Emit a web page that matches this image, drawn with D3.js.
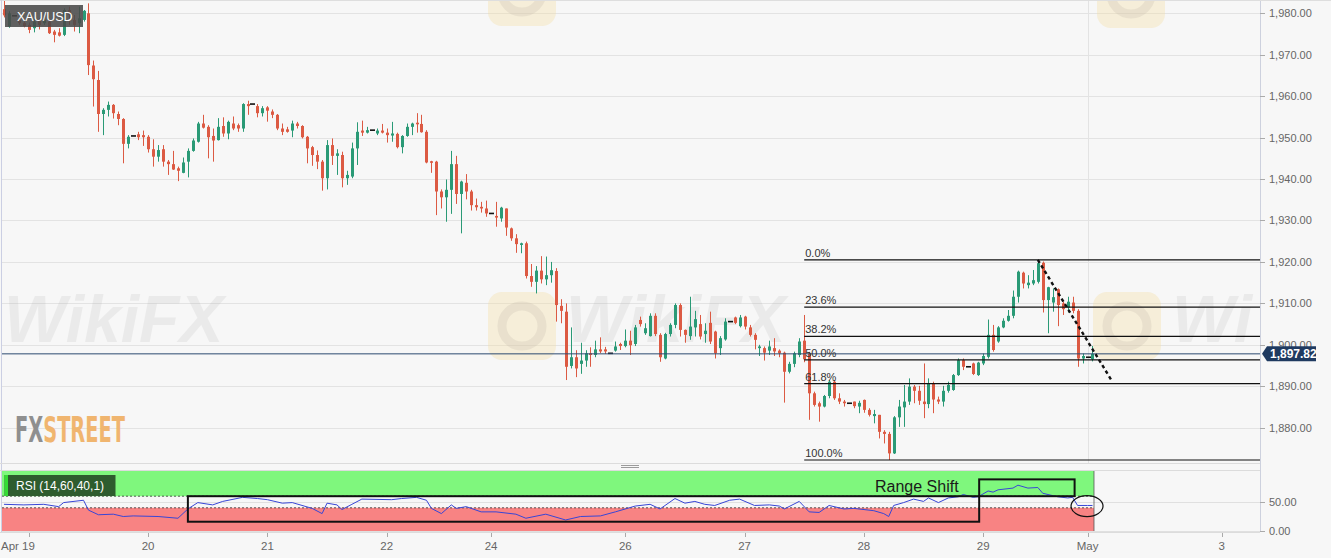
<!DOCTYPE html>
<html><head><meta charset="utf-8">
<script src="https://cdn.jsdelivr.net/npm/d3@7"></script>
<style>
html,body{margin:0;padding:0;background:#f7f7f7;overflow:hidden;}
svg{display:block;font-family:"Liberation Sans",Arial,sans-serif;}
</style></head><body>
<svg id="chart" width="1331" height="558"></svg>
<script>
// ---------- data (hourly XAU/USD candles) ----------
const opens = [
1981.0,1976.8,1979.4,1978.4,1977.7,1977.2,1976.4,1978.2,1977.6,1978.0,
1975.6,1975.4,1974.8,1980.8,1978.4,1977.6,1978.4,1980.0,1967.4,1963.9,
1955.7,1956.7,1957.9,1955.7,1954.5,1948.5,1950.4,1950.8,1950.6,1950.2,
1947.2,1945.4,1947.2,1944.2,1943.6,1942.6,1941.5,1944.2,1946.8,1949.0,
1953.4,1952.6,1950.4,1949.4,1952.8,1951.0,1953.4,1953.0,1952.2,1958.1,
1958.1,1957.6,1955.9,1957.3,1956.3,1955.5,1952.2,1952.0,1951.7,1953.4,
1952.8,1950.2,1947.7,1945.8,1944.2,1940.2,1948.2,1945.6,1945.8,1940.2,
1940.6,1947.4,1951.7,1951.2,1951.8,1951.0,1951.7,1951.2,1950.5,1950.9,
1947.7,1950.4,1952.6,1953.6,1953.3,1951.4,1944.3,1944.2,1937.0,1935.6,
1937.4,1943.6,1936.4,1939.1,1937.0,1933.7,1933.3,1932.9,1931.7,1931.1,
1930.5,1932.9,1928.1,1925.7,1924.1,1924.5,1916.6,1915.2,1917.9,1915.8,
1916.8,1917.8,1909.4,1908.0,1894.9,1897.0,1895.4,1896.2,1897.95,1897.55,
1898.9,1898.9,1897.95,1898.6,1900.2,1899.7,1901.0,1900.2,1906.0,1902.8,
1902.1,1907.0,1902.4,1896.7,1902.6,1904.8,1909.6,1903.6,1902.1,1904.2,
1905.0,1902.6,1905.3,1903.2,1899.2,1901.3,1905.6,1906.6,1904.5,1906.8,
1904.2,1902.4,1899.2,1899.2,1898.6,1899.2,1898.6,1898.1,1893.5,1895.4,
1897.55,1901.0,1897.9,1888.3,1885.9,1885.1,1887.65,1891.1,1887.1,1886.3,
1885.9,1886.3,1885.1,1886.7,1884.3,1882.8,1883.1,1879.0,1878.5,1873.8,
1882.5,1884.9,1886.3,1889.9,1888.9,1886.3,1885.7,1890.7,1886.8,1886.3,
1888.9,1889.1,1892.7,1896.3,1894.7,1895.5,1892.7,1895.5,1897.1,1902.4,
1900.8,1904.2,1905.8,1907.0,1911.6,1917.4,1914.4,1914.8,1915.2,1919.8,
1910.8,1910.2,1913.4,1910.0,1909.0,1910.2,1908.2,1896.7,1897.0,1896.5];
const highs = [
1983.0,1980.5,1979.4,1978.8,1978.0,1977.8,1978.8,1978.8,1979.0,1978.5,
1976.0,1976.4,1981.2,1981.6,1979.6,1981.6,1980.8,1982.4,1968.6,1966.1,
1957.1,1958.7,1958.1,1956.3,1954.7,1950.6,1950.4,1951.4,1951.7,1950.6,
1949.6,1948.2,1948.2,1944.6,1946.8,1943.0,1945.2,1947.4,1949.8,1953.8,
1955.5,1953.0,1952.2,1954.7,1954.9,1954.1,1955.1,1953.4,1958.3,1958.9,
1958.1,1958.1,1957.6,1957.6,1956.8,1955.7,1953.4,1952.6,1954.1,1953.8,
1953.0,1950.4,1948.0,1946.9,1944.6,1949.4,1949.8,1947.2,1946.6,1942.0,
1948.8,1953.7,1954.1,1952.6,1951.8,1952.2,1953.3,1952.2,1953.8,1951.2,
1950.6,1953.4,1953.6,1955.9,1955.5,1951.8,1944.4,1944.4,1937.5,1939.9,
1946.8,1945.6,1939.6,1941.2,1937.4,1935.3,1934.5,1934.8,1931.7,1934.5,
1933.3,1932.9,1928.3,1926.7,1924.65,1924.9,1919.5,1919.0,1921.4,1921.3,
1920.0,1918.5,1911.0,1910.0,1904.2,1898.7,1900.5,1898.7,1899.4,1901.0,
1901.8,1899.5,1897.95,1900.8,1900.5,1903.7,1903.4,1904.8,1906.8,1905.2,
1907.6,1907.6,1902.8,1902.9,1905.2,1910.0,1910.0,1903.7,1911.6,1908.2,
1907.2,1905.2,1908.0,1903.4,1902.1,1906.4,1905.6,1906.8,1907.2,1907.0,
1904.8,1902.8,1900.0,1899.6,1901.0,1901.6,1898.9,1898.35,1895.9,1898.35,
1901.6,1907.2,1898.3,1888.7,1886.3,1887.9,1891.5,1891.5,1888.3,1886.7,
1885.9,1886.3,1886.5,1886.8,1884.7,1884.3,1883.1,1879.4,1879.0,1882.8,
1886.7,1890.3,1891.9,1890.3,1890.1,1895.5,1891.9,1891.1,1887.5,1890.1,
1891.1,1892.96,1896.7,1896.7,1894.7,1895.7,1895.9,1897.9,1906.1,1904.8,
1904.5,1906.4,1908.4,1913.1,1917.9,1917.65,1916.8,1918.05,1920.5,1920.1,
1914.0,1913.6,1913.6,1910.4,1911.6,1911.6,1908.6,1897.9,1897.0,1899.7];
const lows = [
1979.0,1976.5,1979.4,1977.2,1976.6,1975.2,1975.4,1976.1,1977.2,1975.0,
1973.0,1974.4,1974.5,1977.2,1975.6,1975.2,1978.0,1965.1,1957.5,1951.4,
1950.6,1955.1,1954.6,1953.0,1943.8,1947.4,1950.4,1949.4,1948.0,1946.4,
1943.0,1944.2,1943.0,1941.0,1942.2,1939.5,1941.4,1940.4,1946.6,1948.8,
1952.2,1945.0,1944.2,1949.3,1950.2,1949.6,1951.8,1951.4,1951.4,1955.5,
1958.1,1954.9,1955.1,1953.85,1954.7,1951.8,1950.6,1951.2,1950.1,1952.2,
1949.8,1943.8,1943.2,1942.4,1937.2,1937.5,1943.4,1941.0,1938.0,1938.6,
1940.2,1943.4,1950.4,1951.0,1951.8,1950.6,1951.0,1948.8,1949.0,1947.4,
1946.2,1950.2,1950.6,1951.2,1951.2,1943.8,1941.5,1931.3,1932.9,1929.7,
1931.6,1934.0,1926.9,1935.1,1932.4,1932.4,1931.9,1930.9,1931.7,1928.5,
1929.7,1926.3,1925.1,1922.2,1922.1,1916.0,1914.0,1912.4,1914.8,1914.4,
1915.0,1905.6,1905.2,1891.5,1894.3,1892.2,1893.0,1894.7,1894.7,1897.0,
1898.0,1897.8,1897.95,1898.35,1898.75,1899.4,1897.55,1899.7,1904.4,1902.4,
1902.0,1902.1,1895.9,1896.5,1902.0,1904.0,1902.0,1900.5,1901.2,1902.0,
1901.3,1900.5,1900.2,1896.7,1897.55,1901.0,1905.6,1905.0,1904.2,1903.7,
1902.0,1898.9,1897.3,1896.2,1897.55,1897.3,1897.0,1886.05,1893.1,1894.6,
1897.0,1895.8,1881.9,1885.1,1881.45,1884.9,1887.1,1886.7,1885.7,1885.1,
1885.9,1884.7,1883.5,1883.6,1882.7,1881.05,1877.4,1876.2,1872.2,1873.65,
1880.2,1880.2,1885.5,1885.9,1885.5,1882.3,1884.7,1883.5,1885.7,1885.1,
1888.45,1888.9,1892.5,1893.9,1894.7,1892.7,1892.5,1895.1,1896.7,1898.35,
1900.5,1904.0,1905.6,1906.4,1910.2,1913.6,1913.6,1914.4,1914.8,1907.8,
1902.8,1908.0,1904.5,1907.2,1907.8,1907.6,1894.7,1895.5,1897.0,1896.0];
const closes = [
1979.5,1980.0,1979.4,1977.6,1976.9,1976.0,1978.0,1977.2,1978.4,1975.2,
1974.8,1974.6,1980.8,1979.6,1977.2,1978.8,1980.6,1967.5,1964.1,1955.7,
1956.7,1957.9,1955.9,1954.5,1948.5,1950.2,1950.4,1950.1,1950.1,1947.2,
1945.4,1947.0,1944.2,1943.6,1942.3,1942.0,1944.0,1946.8,1949.3,1953.4,
1952.4,1950.1,1949.3,1952.6,1951.0,1953.8,1952.2,1952.2,1958.1,1957.6,
1958.1,1955.9,1957.1,1956.5,1955.5,1952.2,1951.4,1951.4,1953.4,1952.8,
1950.1,1947.4,1945.8,1944.2,1940.2,1948.2,1945.6,1946.2,1940.2,1941.0,
1947.4,1951.4,1951.2,1951.8,1951.8,1951.7,1951.2,1950.6,1951.0,1947.7,
1950.4,1952.6,1953.4,1953.3,1951.3,1944.0,1944.0,1937.0,1935.6,1937.4,
1943.6,1936.4,1939.4,1937.0,1933.7,1933.2,1932.9,1931.7,1931.7,1930.7,
1933.1,1928.3,1925.7,1924.3,1924.5,1916.6,1915.2,1917.9,1915.8,1916.8,
1918.0,1909.6,1908.2,1894.7,1897.0,1894.3,1896.2,1897.95,1897.55,1898.9,
1898.4,1898.4,1897.95,1899.6,1899.7,1901.0,1899.9,1904.2,1905.0,1904.0,
1907.0,1902.6,1897.0,1902.6,1904.8,1909.6,1903.6,1902.4,1904.4,1906.2,
1902.0,1903.4,1900.8,1897.95,1901.6,1905.6,1905.6,1905.3,1906.6,1904.4,
1902.4,1901.2,1899.6,1898.1,1899.6,1898.4,1897.95,1893.5,1895.4,1897.95,
1900.8,1896.5,1888.3,1885.5,1885.1,1887.65,1891.1,1887.1,1886.3,1885.9,
1885.9,1885.2,1886.0,1884.3,1883.1,1883.3,1879.0,1878.5,1873.8,1882.5,
1885.1,1886.3,1889.9,1888.9,1886.5,1885.7,1890.7,1886.8,1886.3,1888.9,
1890.3,1892.7,1896.3,1894.7,1894.7,1892.96,1895.7,1897.3,1902.4,1898.75,
1904.2,1905.8,1907.0,1911.6,1917.65,1914.8,1915.0,1915.6,1919.7,1910.8,
1913.9,1911.5,1909.6,1908.6,1910.4,1908.2,1896.7,1897.3,1897.0,1897.82];

const dayTickIndex  = [5, 29, 53, 77, 98, 125, 149, 173, 197, 218, 245];
const dayTickLabels = ["Apr 19","20","21","22","24","26","27","28","29","May","3"];
const priceTicks = [1880,1890,1900,1910,1920,1930,1940,1950,1960,1970,1980];
const rsiTicks = [0, 50];

const rsiIndex = [0,4,8,11,12,16,17,19,22,24,26,31,35,37,39,42,44,48,51,53,
56,58,62,64,65,67,68,70,72,78,80,83,85,86,88,90,91,93,96,99,
103,105,109,113,116,120,123,127,130,132,135,137,139,141,143,146,148,151,154,156,
157,160,162,164,166,169,171,175,177,178,179,181,183,185,186,188,190,192,193,195,
196,198,199,200,203,204,206,208,209,212,214,215,216,218,219];
const rsiValues = [46,45,46,42,49,53,36,28,29,25,26,25,22,38,49,45,51,58,56,54,
48,49,39,30,48,45,37,46,55,54,56,58,53,39,30,45,39,42,33,33,
29,22,29,19,25,26,33,43,46,38,56,48,51,46,44,53,55,44,45,43,
38,51,33,32,44,38,39,35,30,25,44,49,55,51,57,49,57,59,63,58,
59,69,67,71,74,79,74,75,65,59,57,58,44,44,44];

const fibRatios = [0, 0.236, 0.382, 0.5, 0.618, 1];
const fibLabels = ["0.0%","23.6%","38.2%","50.0%","61.8%","100.0%"];
const fibHigh = 1920.5, fibLow = 1872.2, fibStartIndex = 161;
const lastPrice = 1897.82;
const trendIndex = [208, 223], trendPrice = [1920.5, 1891.1];
const boxIndex0 = [37, 196.2], boxIndex1 = [196.2, 215.4];
const boxTop = [60, 89], boxBottom = [16, 60];
const circleIndex = 217.9, circleValue = 43;
const rsiUpper = 60, rsiLower = 40;

// ---------- layout ----------
const W = 1331, H = 558, plotR = 1260;
const svg = d3.select("#chart");
const x = d3.scaleLinear().domain([-0.8, 252.7]).range([0, plotR]);
const y = d3.scaleLinear().domain([1871.48, 1983.21]).range([463, 0]);
const ry = d3.scaleLinear().domain([0, 100]).range([531, 473]);
const fmt = d3.format(",.2f");
const n = closes.length;
const GREEN = "#2a9a76", RED = "#dc5a43";

svg.append("rect").attr("width", W).attr("height", H).attr("fill", "#f7f7f7");
const defs = svg.append("defs");
defs.append("clipPath").attr("id","pc").append("rect")
  .attr("x", 2).attr("y", 1).attr("width", plotR - 2).attr("height", 462);
const fxGrad = defs.append("linearGradient").attr("id", "fxg").attr("gradientUnits", "userSpaceOnUse")
  .attr("x1", 15).attr("x2", 125).attr("y1", 0).attr("y2", 0);
[[0, "#8f8f8f"], [0.255, "#8f8f8f"], [0.255, "#f0b56f"], [1, "#f0b56f"]].forEach(([o, c]) =>
  fxGrad.append("stop").attr("offset", o).attr("stop-color", c));

// price grid
svg.append("g").selectAll("line").data(priceTicks).join("line")
  .attr("x1", 2).attr("x2", plotR).attr("y1", d => Math.round(y(d)) + 0.5).attr("y2", d => Math.round(y(d)) + 0.5)
  .attr("stroke", "#e3e3e3");
// vertical grid at month start
svg.append("line").attr("x1", Math.round(x(218)) + 0.5).attr("x2", Math.round(x(218)) + 0.5)
  .attr("y1", 0).attr("y2", 463).attr("stroke", "#e3e3e3");

// watermarks
const wm = svg.append("g").attr("clip-path", "url(#pc)");
const logos = [[488, 292], [1093, 292], [488, -42], [1097, -40]];
logos.forEach(([lx, ly]) => {
  wm.append("rect").attr("x", lx).attr("y", ly).attr("width", 68).attr("height", 68).attr("rx", 14)
    .attr("fill", "#f4dca0").attr("opacity", 0.35);
  wm.append("circle").attr("cx", lx + 34).attr("cy", ly + 34).attr("r", 20)
    .attr("fill", "none").attr("stroke", "#b9b2a6").attr("stroke-width", 9).attr("opacity", 0.22);
});
[[4, 342, "WikiFX"], [566, 342, "WikiFX"], [1172, 342, "Wi"]].forEach(([tx, ty, tt]) => {
  wm.append("text").attr("x", tx).attr("y", ty).text(tt)
    .attr("font-size", 66).attr("font-weight", "bold").attr("font-style", "italic")
    .attr("fill", "#9a9a9a").attr("opacity", 0.13);
});

// FXSTREET logo (one text, two colours via hard-stop gradient)
svg.append("text").attr("x", 15).attr("y", 442).text("FXSTREET")
  .attr("font-family", "DejaVu Sans Condensed, DejaVu Sans").attr("font-weight", "bold")
  .attr("font-size", 36).attr("textLength", 110).attr("lengthAdjust", "spacingAndGlyphs")
  .attr("fill", "url(#fxg)");

// candles
const cg = svg.append("g").attr("clip-path", "url(#pc)");
const idx = d3.range(n);
const colorOf = i => closes[i] > opens[i] ? GREEN : (closes[i] < opens[i] ? RED : "#111");
cg.selectAll("line.w").data(idx).join("line").attr("class", "w")
  .attr("x1", i => Math.round(x(i)) + 0.5).attr("x2", i => Math.round(x(i)) + 0.5)
  .attr("y1", i => y(highs[i])).attr("y2", i => y(lows[i]))
  .attr("stroke", colorOf).attr("stroke-width", 1);
cg.selectAll("rect.b").data(idx).join("rect").attr("class", "b")
  .attr("x", i => Math.round(x(i)) - 1 - (opens[i] === closes[i] ? 1 : 0))
  .attr("width", i => opens[i] === closes[i] ? 5 : 3)
  .attr("y", i => y(Math.max(opens[i], closes[i])) - (opens[i] === closes[i] ? 0.8 : 0))
  .attr("height", i => Math.max(1.6, y(Math.min(opens[i], closes[i])) - y(Math.max(opens[i], closes[i]))))
  .attr("fill", colorOf);

// current price line
svg.append("line").attr("x1", 2).attr("x2", plotR).attr("y1", y(lastPrice)).attr("y2", y(lastPrice))
  .attr("stroke", "#2c4a70").attr("stroke-width", 1);

// Fibonacci levels
const fibG = svg.append("g");
fibRatios.forEach((r, k) => {
  const p = fibHigh - r * (fibHigh - fibLow);
  const yy = y(p);
  fibG.append("line").attr("x1", x(fibStartIndex)).attr("x2", plotR).attr("y1", yy).attr("y2", yy)
    .attr("stroke", "#111").attr("stroke-width", 1.2);
  fibG.append("text").attr("x", x(fibStartIndex) + 1).attr("y", yy - 3).text(fibLabels[k])
    .attr("font-size", 11).attr("fill", "#333");
});

// dashed trend line
svg.append("line").attr("x1", x(trendIndex[0])).attr("y1", y(trendPrice[0]))
  .attr("x2", x(trendIndex[1])).attr("y2", y(trendPrice[1]))
  .attr("stroke", "#111").attr("stroke-width", 2.4).attr("stroke-dasharray", "3.5,3");

// price axis
svg.append("line").attr("x1", plotR + 0.5).attr("x2", plotR + 0.5).attr("y1", 0).attr("y2", 532)
  .attr("stroke", "#cdd1de");
const pa = svg.append("g");
pa.selectAll("line").data(priceTicks).join("line")
  .attr("x1", plotR).attr("x2", plotR + 5).attr("y1", d => Math.round(y(d)) + 0.5).attr("y2", d => Math.round(y(d)) + 0.5)
  .attr("stroke", "#aaa");
pa.selectAll("text").data(priceTicks).join("text")
  .attr("x", 1269).attr("y", d => y(d) + 4).text(d => fmt(d))
  .attr("font-size", 11).attr("fill", "#666");

// last price label
const yl = y(lastPrice);
svg.append("path").attr("d", `M1262,${yl} L1267,${yl-7.5} L1316,${yl-7.5} L1316,${yl+7.5} L1267,${yl+7.5} Z`)
  .attr("fill", "#1f3a60");
svg.append("text").attr("x", 1270).attr("y", yl + 4.5).text(fmt(lastPrice))
  .attr("font-size", 12).attr("font-weight", "bold").attr("fill", "#fff");

// symbol label
svg.append("rect").attr("x", 5).attr("y", 5).attr("width", 78).attr("height", 22).attr("fill", "#4a4a4a").attr("opacity", 0.88);
svg.append("text").attr("x", 17).attr("y", 20.5).text("XAU/USD").attr("font-size", 12.5).attr("fill", "#fff");

// borders
svg.append("line").attr("x1", 0).attr("x2", W).attr("y1", 0.5).attr("y2", 0.5).attr("stroke", "#dedede");
svg.append("line").attr("x1", 1.5).attr("x2", 1.5).attr("y1", 0).attr("y2", 532).attr("stroke", "#cbcfe3");
svg.append("line").attr("x1", 0).attr("x2", plotR).attr("y1", 463.5).attr("y2", 463.5).attr("stroke", "#dcdcdc");
// panel separator handle
[465, 467].forEach(hy => svg.append("line").attr("x1", 621).attr("x2", 639).attr("y1", hy + 0.5).attr("y2", hy + 0.5).attr("stroke", "#9a9a9a"));

// ---------- RSI panel ----------
const rg = svg.append("g");
rg.append("line").attr("x1", 0).attr("x2", plotR).attr("y1", 470.5).attr("y2", 470.5).attr("stroke", "#dcdcdc");
rsiTicks.forEach(t => rg.append("line").attr("x1", 2).attr("x2", plotR).attr("y1", Math.round(ry(t)) + 0.5).attr("y2", Math.round(ry(t)) + 0.5).attr("stroke", "#e0e0e0"));
const bandR = x(n - 1) + 1.5;
rg.append("rect").attr("x", 2).attr("y", 471).attr("width", bandR - 2).attr("height", ry(rsiUpper) - 471).attr("fill", "#7ff77d");
rg.append("rect").attr("x", 2).attr("y", ry(rsiLower)).attr("width", bandR - 2).attr("height", ry(0) - ry(rsiLower)).attr("fill", "#f88383");
rg.append("line").attr("x1", bandR).attr("x2", bandR).attr("y1", 471).attr("y2", ry(0)).attr("stroke", "#555").attr("stroke-width", 0.8);
[rsiUpper, rsiLower].forEach(v => rg.append("line").attr("x1", 2).attr("x2", bandR).attr("y1", ry(v)).attr("y2", ry(v))
  .attr("stroke", "#333").attr("stroke-width", 0.8).attr("stroke-dasharray", "2,2"));
const rsiPts = rsiIndex.map((d, k) => [d, rsiValues[k]]);
rg.append("path").datum(rsiPts)
  .attr("d", d3.line().x(d => x(d[0])).y(d => ry(d[1])))
  .attr("fill", "none").attr("stroke", "#3846d6").attr("stroke-width", 1);
for (let k = 0; k < 2; k++) {
  rg.append("rect").attr("x", x(boxIndex0[k])).attr("y", ry(boxTop[k]))
    .attr("width", x(boxIndex1[k]) - x(boxIndex0[k])).attr("height", ry(boxBottom[k]) - ry(boxTop[k]))
    .attr("fill", "none").attr("stroke", "#111").attr("stroke-width", 2);
}
rg.append("text").attr("x", 875).attr("y", 492).text("Range Shift").attr("font-size", 16).attr("fill", "#1a1a1a");
rg.append("ellipse").attr("cx", x(circleIndex)).attr("cy", ry(circleValue)).attr("rx", 16).attr("ry", 10.5)
  .attr("fill", "none").attr("stroke", "#111").attr("stroke-width", 1.2);
rg.append("rect").attr("x", 4.5).attr("y", 475).attr("width", 111).attr("height", 21).attr("fill", "#2e5c2e");
rg.append("rect").attr("x", 4.5).attr("y", 475).attr("width", 3.5).attr("height", 21).attr("fill", "#35dc35");
rg.append("text").attr("x", 16).attr("y", 490).text("RSI (14,60,40,1)").attr("font-size", 12).attr("fill", "#fff");
rg.selectAll("line.rt").data(rsiTicks).join("line").attr("class", "rt")
  .attr("x1", plotR).attr("x2", plotR + 5).attr("y1", d => Math.round(ry(d)) + 0.5).attr("y2", d => Math.round(ry(d)) + 0.5).attr("stroke", "#aaa");
rg.selectAll("text.rl").data(rsiTicks).join("text").attr("class", "rl")
  .attr("x", 1269).attr("y", d => ry(d) + 4).text(d => fmt(d)).attr("font-size", 11).attr("fill", "#666");
rg.append("line").attr("x1", 0).attr("x2", plotR).attr("y1", 532.5).attr("y2", 532.5).attr("stroke", "#dcdcdc");

// ---------- time axis ----------
const xa = svg.append("g");
xa.selectAll("line").data(dayTickIndex).join("line")
  .attr("x1", d => Math.round(x(d)) + 0.5).attr("x2", d => Math.round(x(d)) + 0.5)
  .attr("y1", 533).attr("y2", 537).attr("stroke", "#aaa");
xa.selectAll("text").data(dayTickIndex).join("text")
  .attr("x", (d, k) => k === 0 ? 1 : x(d)).attr("y", 550)
  .attr("text-anchor", (d, k) => k === 0 ? "start" : "middle")
  .text((d, k) => dayTickLabels[k]).attr("font-size", 11.5).attr("fill", "#666");
</script>
</body></html>
